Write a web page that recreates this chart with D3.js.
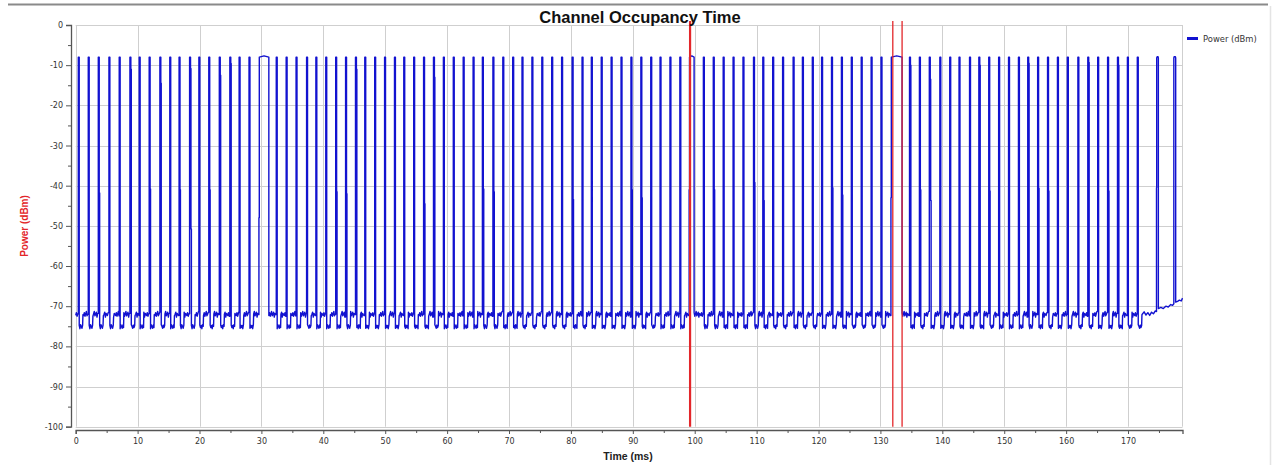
<!DOCTYPE html>
<html><head><meta charset="utf-8">
<script src="https://cdn.jsdelivr.net/npm/d3@7/dist/d3.min.js"></script>
<style>body{margin:0;background:#fff}svg{display:block}</style>
</head><body><svg id="c" width="1279" height="465"></svg>
<script>
// ---------------- DATA ----------------
const chartTitle = "Channel Occupancy Time";
const xLabel = "Time (ms)";
const yLabel = "Power (dBm)";
const seriesName = "Power (dBm)";
const xDomain = [0, 178.8];
const yDomain = [-100, 0];
const xTicks = [0,10,20,30,40,50,60,70,80,90,100,110,120,130,140,150,160,170];
const yTicks = [0,-10,-20,-30,-40,-50,-60,-70,-80,-90,-100];

// start time (ms) of each burst
const pulseStart = [0.42,2.03,3.65,5.37,7.03,8.76,10.26,11.87,13.6,15.2,16.7,18.4,19.9,21.5,23.2,24.9,26.4,28.0,29.6,
  32.4,34.0,35.6,37.3,38.8,40.4,42.0,43.6,45.2,46.7,48.3,49.9,51.5,53.0,54.6,56.2,57.8,59.4,61.0,62.6,64.2,65.7,67.4,
  69.0,70.6,72.1,73.7,75.3,76.9,78.5,80.2,81.8,83.3,84.9,86.5,88.1,89.7,91.3,92.9,94.4,96.0,97.6,99.1,
  101.4,103.0,104.6,106.2,107.8,109.5,111.0,112.6,114.2,115.9,117.4,119.0,120.5,122.1,123.7,125.3,126.9,128.5,130.1,131.7,
  134.7,136.3,137.9,139.6,141.2,142.7,144.4,145.9,147.5,149.1,150.7,152.3,153.8,155.4,157.0,158.6,160.2,161.9,163.5,
  165.1,166.7,168.3,169.9,171.5];
const pulseDuration = 0.15;            // ms, typical burst
const widePulseEnd = [[29.6,31.2],[99.1,99.9],[131.7,133.5]]; // [start, end]
const pulseTop = -8;
// intermediate levels on the falling edge [pulse start, dBm]
const fallSteps = [[3.65,-41.8],[8.76,-11],[11.87,-40.8],[13.6,-14.5],[16.7,-41],[18.4,-10.8],[18.4,-50.8],[21.5,-41],
  [23.2,-12.5],[24.9,-9.6],[42.0,-41.5],[43.6,-42],[45.2,-11],[56.2,-44.5],[57.8,-13],[65.7,-40.8],[67.4,-41.5],
  [80.2,-43.4],[89.7,-41],[91.3,-43],[103.0,-41],[109.5,-39.2],[111.0,-43.7],[122.1,-40.5],[123.7,-42.3],
  [134.7,-10],[136.3,-41],[137.9,-13.5],[137.9,-43.7],[145.9,-10],[147.5,-41.3],[153.8,-9.5],[155.4,-40.6],
  [157.0,-41.3],[163.5,-9.3],[166.7,-41.3],[168.3,-10]];
// intermediate levels on the rising edge of long bursts
const riseSteps = [[29.6,-48],[99.1,-41],[131.7,-43]];
// idle-channel levels between bursts (typical shape of one gap, dBm)
const dipLevels = [-75.0,-75.5,-74.7,-75.3,-74.8,-75.6,-74.6];
const restLevels = [-72.3,-71.6,-72.5,-71.9,-71.3,-72.4,-72.0,-71.5,-72.7,-71.8,-72.1];
// end of trace, read point by point [ms, dBm]
const tailPoints = [[172.3,-72.0],[172.6,-71.4],[172.9,-72.2],[173.2,-71.6],[173.5,-72.3],[173.8,-71.5],[174.1,-71.9],
  [174.4,-71.2],[174.6,-71.3],[174.6,-40.5],[174.63,-40.5],[174.63,-8.2],[174.7,-7.9],[174.85,-7.9],[174.9,-8.2],
  [174.9,-70.6],[175.3,-70.3],[175.7,-70.6],[176.1,-70.0],[176.5,-70.2],[176.9,-69.6],[177.2,-69.8],[177.4,-69.4],
  [177.4,-8.2],[177.45,-7.9],[177.65,-7.9],[177.7,-8.2],[177.7,-69.0],[178.0,-68.8],[178.3,-68.5],[178.6,-68.7],[178.8,-68.0]];
// red time markers (ms)
const markers = [99.25, 132.0, 133.5];

// ---------------- DRAW ----------------
const svg = d3.select("#c");
const L = 75.7, R = 1182.5, T = 25, B = 426.7;
const x = d3.scaleLinear().domain(xDomain).range([L, R]);
const y = d3.scaleLinear().domain(yDomain).range([B, T]);
const font = "'DejaVu Sans', Verdana, sans-serif";

// frame lines
svg.append("line").attr("x1",8).attr("x2",1268).attr("y1",4.5).attr("y2",4.5).attr("stroke","#8a8a8a").attr("stroke-width",2);
svg.append("line").attr("x1",1270.5).attr("x2",1270.5).attr("y1",6).attr("y2",465).attr("stroke","#e4e4e4").attr("stroke-width",1.5);

// grid
const g = svg.append("g");
g.selectAll(".vg").data(xTicks).join("line")
  .attr("x1",d=>Math.round(x(d))+0.5).attr("x2",d=>Math.round(x(d))+0.5).attr("y1",T).attr("y2",B)
  .attr("stroke","#cfcfcf");
g.append("line").attr("x1",R).attr("x2",R).attr("y1",T).attr("y2",B).attr("stroke","#cfcfcf");
g.selectAll(".hg").data(yTicks).join("line")
  .attr("x1",L).attr("x2",R).attr("y1",d=>Math.round(y(d))+0.5).attr("y2",d=>Math.round(y(d))+0.5)
  .attr("stroke","#cfcfcf");

// axes
const yMinor = d3.range(-95, 0, 10);
svg.append("g").attr("transform","translate(71,0)")
  .call(d3.axisLeft(y).tickValues(yTicks).tickSize(5).tickPadding(3).tickFormat(d=>String(d)));
svg.append("g").attr("transform","translate(71,0)")
  .call(d3.axisLeft(y).tickValues(yMinor).tickSize(3).tickFormat(""))
  .select(".domain").remove();
const xMinor = d3.range(5, 180, 10);
svg.append("g").attr("transform","translate(0,430)")
  .call(d3.axisBottom(x).tickValues(xTicks).tickSize(4).tickPadding(4).tickFormat(d=>String(d)));
svg.append("g").attr("transform","translate(0,430)")
  .call(d3.axisBottom(x).tickValues(xMinor).tickSize(3).tickFormat(""))
  .select(".domain").remove();
svg.selectAll(".domain").attr("stroke","#555").attr("stroke-width",1.3);
svg.selectAll(".tick line").attr("stroke","#555");
svg.selectAll(".tick text").attr("fill","#333").style("font-family",font).style("font-size","8px");

// build trace
const pts = [];
let k = 0;
function fill(levels, from, to) {
  for (let t = from; t < to - 0.02; t += 0.11) pts.push([t, levels[k++ % levels.length]]);
}
const wideMap = new Map(widePulseEnd.map(d=>[d[0], d[1]]));
fill(restLevels, 0, pulseStart[0]);
pulseStart.forEach((t, i) => {
  const wide = wideMap.has(t);
  let e = wide ? wideMap.get(t) : t + pulseDuration;
  const last = pts.length ? pts[pts.length-1][1] : restLevels[0];
  pts.push([t, last]);
  let r = t;
  riseSteps.filter(s=>s[0]===t).forEach(s => { pts.push([r, s[1]]); r += 0.06; pts.push([r, s[1]]); });
  pts.push([r, pulseTop]);
  if (wide) pts.push([(r+e)/2, pulseTop + 0.3]);
  pts.push([e, pulseTop]);
  fallSteps.filter(s=>s[0]===t).sort((a,b)=>b[1]-a[1]).forEach(s => { pts.push([e, s[1]]); e += 0.07; pts.push([e, s[1]]); });
  const next = i < pulseStart.length-1 ? pulseStart[i+1] : tailPoints[0][0];
  if (wide) {
    pts.push([e, restLevels[k % restLevels.length]]);
    fill(restLevels, e, next);
  } else {
    pts.push([e, dipLevels[k % dipLevels.length]]);
    fill(dipLevels, e, e + 0.6);
    pts.push([e + 0.6, restLevels[k % restLevels.length]]);
    fill(restLevels, e + 0.6, next);
  }
});
tailPoints.forEach(p => pts.push(p));

svg.append("clipPath").attr("id","clip").append("rect").attr("x",L-1).attr("y",T-2).attr("width",R-L+2).attr("height",B-T+4);
svg.append("path").datum(pts)
  .attr("clip-path","url(#clip)")
  .attr("d", d3.line().x(d=>x(d[0])).y(d=>y(d[1])))
  .attr("fill","none").attr("stroke","#1212d0").attr("stroke-width",1.4).attr("stroke-linejoin","round");

// markers
svg.selectAll(".mk").data(markers).join("line")
  .attr("x1",d=>x(d)).attr("x2",d=>x(d)).attr("y1",T-4).attr("y2",B)
  .attr("stroke","#e3262a").attr("stroke-width",(d,i)=>i===0?2.2:1.3);

// title & labels
svg.append("text").attr("x",640).attr("y",22.5).attr("text-anchor","middle")
  .style("font-family","'Liberation Sans', Arial, sans-serif").style("font-weight","bold").style("font-size","16.5px")
  .attr("fill","#111").text(chartTitle);
svg.append("text").attr("transform","translate(27.5,226) rotate(-90)").attr("text-anchor","middle")
  .style("font-family","'Liberation Sans', Arial, sans-serif").style("font-weight","bold").style("font-size","10px")
  .attr("fill","#e3262a").text(yLabel);
svg.append("text").attr("x",628).attr("y",460).attr("text-anchor","middle")
  .style("font-family","'Liberation Sans', Arial, sans-serif").style("font-weight","bold").style("font-size","10.5px")
  .attr("fill","#222").text(xLabel);

// legend
svg.append("line").attr("x1",1187).attr("x2",1198).attr("y1",38.5).attr("y2",38.5).attr("stroke","#1212d0").attr("stroke-width",3);
svg.append("text").attr("x",1203).attr("y",41.5)
  .style("font-family",font).style("font-size","8.4px").attr("fill","#333").text(seriesName);
</script></body></html>
